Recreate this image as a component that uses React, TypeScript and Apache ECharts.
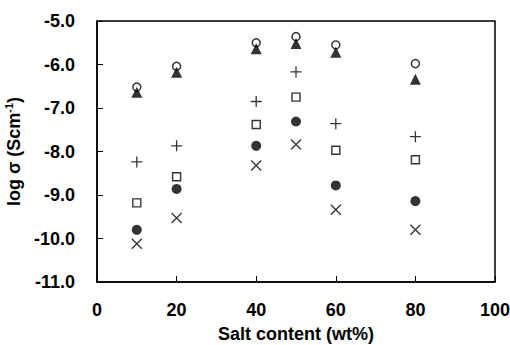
import React, { useEffect, useRef } from "react";
import * as echarts from "echarts";

const saltContent = [10, 20, 40, 50, 60, 80];
const openCircle = [-6.52, -6.04, -5.5, -5.36, -5.55, -5.98];
const filledTriangle = [-6.64, -6.18, -5.64, -5.52, -5.72, -6.34];
const plusSeries = [-8.24, -7.87, -6.85, -6.17, -7.36, -7.66];
const openSquare = [-9.18, -8.58, -7.38, -6.75, -7.97, -8.19];
const filledCircle = [-9.8, -8.86, -7.87, -7.31, -8.78, -9.14];
const crossSeries = [-10.12, -9.53, -8.32, -7.84, -9.34, -9.8];

const xTicks = [0, 20, 40, 60, 80, 100];
const yTicks = [-11, -10, -9, -8, -7, -6, -5];

const FONT = "'Liberation Sans', Arial, sans-serif";

const pair = (ys: number[]) => saltContent.map((x, i) => [x, ys[i]]);

export default function App() {
  const ref = useRef<HTMLDivElement>(null);
  useEffect(() => {
    document.body.style.margin = "0";
    if (!ref.current) return;
    const chart = echarts.init(ref.current, null, { renderer: "svg" });
    const stroke = { color: "transparent", borderColor: "#000", borderWidth: 1.3 };
    chart.setOption({
      animation: false,
      backgroundColor: "#fff",
      grid: {
        left: 97,
        right: 15,
        top: 21,
        bottom: 63,
        show: true,
        borderColor: "#000",
        borderWidth: 1.5,
        containLabel: false,
        outerBoundsMode: "none",
      },
      xAxis: {
        type: "value",
        min: xTicks[0],
        max: xTicks[xTicks.length - 1],
        interval: 20,
        name: "Salt content (wt%)",
        nameLocation: "middle",
        nameGap: 43,
        nameTextStyle: { fontFamily: FONT, fontWeight: "bold", fontSize: 18, color: "#000" },
        axisLine: { show: true, lineStyle: { color: "#000", width: 1.5 } },
        axisTick: { show: true, inside: true, length: 6, lineStyle: { color: "#000", width: 1 } },
        axisLabel: { margin: 19, fontFamily: FONT, fontWeight: "bold", fontSize: 18, color: "#000" },
        splitLine: { show: false },
      },
      yAxis: {
        type: "value",
        min: yTicks[0],
        max: yTicks[yTicks.length - 1],
        interval: 1,
        name: "{a|log σ (Scm}{s|-1}{a|)}",
        nameLocation: "middle",
        nameGap: 63,
        nameRotate: 90,
        nameTextStyle: {
          rich: {
            a: { fontFamily: FONT, fontWeight: "bold", fontSize: 18, color: "#000", lineHeight: 22 },
            s: { fontFamily: FONT, fontWeight: "bold", fontSize: 11, color: "#000", verticalAlign: "top", lineHeight: 22 },
          },
        },
        axisLine: { show: true, lineStyle: { color: "#000", width: 1.5 } },
        axisTick: { show: true, inside: true, length: 6, lineStyle: { color: "#000", width: 1 } },
        axisLabel: {
          margin: 22,
          fontFamily: FONT,
          fontWeight: "bold",
          fontSize: 18,
          color: "#000",
          formatter: (v: number) => v.toFixed(1),
        },
        splitLine: { show: false },
      },
      series: [
        {
          type: "scatter",
          data: pair(openCircle),
          symbol: "circle",
          symbolSize: 8,
          itemStyle: { color: "#fff", borderColor: "#000", borderWidth: 1.5 },
        },
        {
          type: "scatter",
          data: pair(filledTriangle),
          symbol: "triangle",
          symbolSize: 11,
          itemStyle: { color: "#000" },
        },
        {
          type: "scatter",
          data: pair(plusSeries),
          symbol: "path://M0,5L10,5M5,0L5,10",
          symbolSize: 11,
          itemStyle: stroke,
        },
        {
          type: "scatter",
          data: pair(openSquare),
          symbol: "rect",
          symbolSize: 8,
          itemStyle: { color: "#fff", borderColor: "#000", borderWidth: 1.4 },
        },
        {
          type: "scatter",
          data: pair(filledCircle),
          symbol: "circle",
          symbolSize: 10,
          itemStyle: { color: "#000" },
        },
        {
          type: "scatter",
          data: pair(crossSeries),
          symbol: "path://M0,0L10,10M10,0L0,10",
          symbolSize: 10,
          itemStyle: stroke,
        },
      ],
    });
    return () => chart.dispose();
  }, []);
  return <div ref={ref} style={{ width: 510, height: 345 }} />;
}
